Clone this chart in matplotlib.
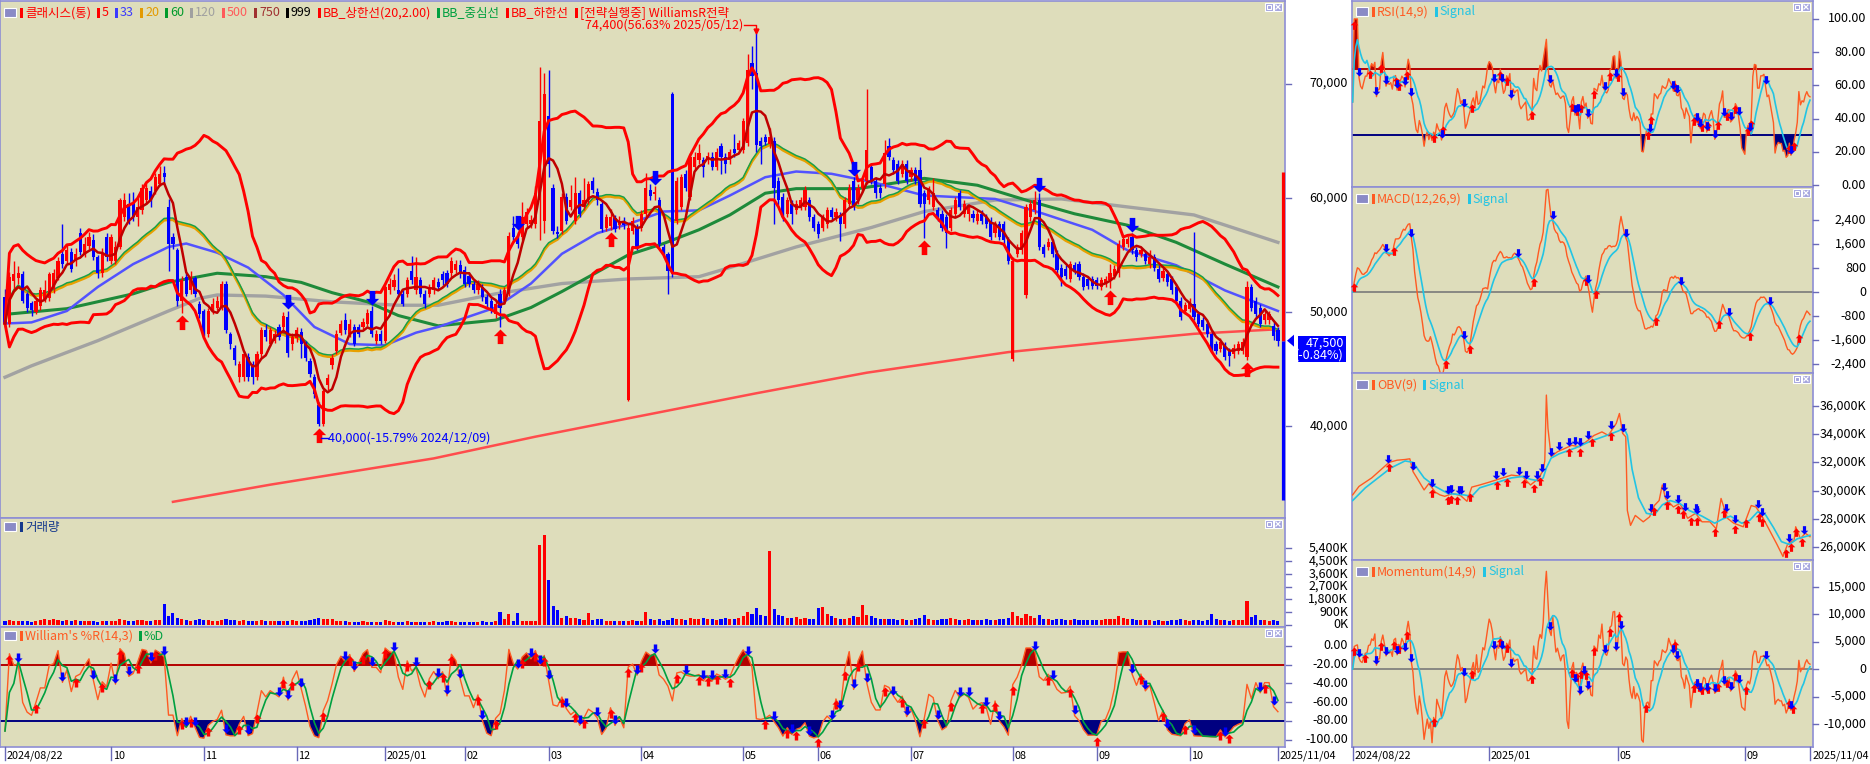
import numpy as np
import pandas as pd
import matplotlib
matplotlib.use('Agg')
import matplotlib.pyplot as plt
from matplotlib.patches import Rectangle, Polygon
from matplotlib.lines import Line2D
from matplotlib.path import Path
from matplotlib.markers import MarkerStyle
from matplotlib.transforms import blended_transform_factory as btf, offset_copy

plt.rcParams['font.family'] = ['Noto Sans CJK KR', 'DejaVu Sans']

# ===================== DATA =====================
stock_name = '클래시스(통)'
hi_date = '2025/05/12'
lo_date = '2024/12/09'
month_tick_idx = [0, 24, 45, 66, 86, 104, 123, 144, 167, 184, 205, 228, 247, 268, 288]
month_tick_lbl = ['2024/08/22', '10', '11', '12', '2025/01', '02', '03', '04', '05',
                  '06', '07', '08', '09', '10', '2025/11/04']
side_tick_idx = [0, 86, 167, 247, 288]
side_tick_lbl = ['2024/08/22', '2025/01', '05', '09', '2025/11/04']

# daily prices in units of 100 KRW
open_100 = [
    513,490,527,530,533,516,508,500,505,511, 512,520,530,551,545,553,545,569,551,558,
    563,548,534,566,545,545,557,583,595,596, 583,589,598,606,606,612,622,592,566,554,
    510,531,519,530,507,501,481,501,504,504, 525,481,469,443,443,461,455,443,463,484,
    472,475,487,487,496,472,477,483,472,457, 443,419,402,436,454,466,482,493,481,487,
    487,487,490,501,475,481,475,519,522,519, 516,516,536,519,528,516,516,519,526,533,
    534,534,537,541,537,532,525,519,522,513, 510,498,516,510,516,574,566,566,577,577,
    577,598,580,672,609,570,571,601,592,580, 604,592,598,615,605,595,574,575,582,576,
    580,423,571,574,574,586,607,603,598,557, 551,691,580,592,621,601,627,633,633,633,
    636,627,645,636,633,643,642,642,648,718, 709,650,653,647,650,615,601,586,595,589,
    592,592,598,583,577,574,577,589,583,585, 577,595,615,598,609,615,627,615,609,612,
    645,633,630,621,630,618,624,624,604,598, 592,589,586,583,574,586,604,586,586,586,
    580,586,583,580,569,577,577,563,459,551, 554,515,583,589,598,557,557,561,551,539,
    538,529,541,542,531,529,529,528,522,525, 528,532,534,557,560,566,554,551,551,542,
    548,538,530,533,529,522,510,501,503,507, 498,493,490,481,472,468,471,466,463,466,
    466,461,522,510,504,493,493,488,484]
high_100 = [
    520,535,545,540,536,518,510,512,522,528, 535,538,548,577,560,556,556,574,566,570,
    568,550,556,569,568,562,600,604,604,605, 600,612,613,610,622,628,628,599,569,556,
    532,534,536,532,510,503,504,512,514,527, 527,483,471,457,466,464,457,466,487,490,
    487,484,490,500,501,482,487,486,475,460, 446,421,433,446,463,484,493,499,494,490,
    490,495,503,505,484,484,524,530,533,539, 519,531,549,548,531,519,525,531,530,536,
    537,548,546,546,540,535,528,528,525,516, 512,510,520,522,570,584,570,596,591,585,
    610,714,709,712,612,575,604,604,611,618, 607,617,615,618,609,598,586,590,585,584,
    583,577,583,577,589,622,612,610,601,560, 553,693,618,621,624,639,640,647,636,640,
    640,644,648,639,643,656,651,670,726,733, 744,653,656,661,653,618,604,601,598,598,
    601,610,601,586,580,586,592,592,591,588, 601,612,618,612,618,695,630,618,612,651,
    652,636,633,633,633,627,627,636,607,610, 617,592,589,586,592,601,607,598,595,589,
    589,589,586,583,580,580,580,566,548,560, 572,595,598,606,604,560,565,564,554,542,
    541,545,544,545,534,532,532,531,531,532, 542,541,563,567,567,569,557,557,554,554,
    551,541,539,536,532,525,513,509,512,570, 501,496,493,484,475,477,474,469,472,475,
    477,527,525,513,507,501,501,491,487]
low_100 = [
    487,487,520,525,508,500,497,498,502,509, 510,517,528,539,542,535,540,550,548,555,
    546,530,531,545,542,542,555,580,577,580, 575,586,595,592,603,610,612,536,555,505,
    499,514,516,513,495,479,478,498,502,502, 482,468,454,439,440,440,437,441,460,475,
    470,473,476,482,461,467,474,460,457,443, 425,400,400,432,450,463,480,481,478,470,
    478,485,488,478,472,472,473,516,519,513, 505,513,525,516,513,504,513,516,519,524,
    522,531,534,530,522,522,517,516,510,504, 499,495,487,507,514,562,556,563,574,574,
    574,563,569,618,568,565,568,577,589,577, 583,589,595,604,594,570,571,572,570,573,
    573,422,568,554,571,583,598,598,557,548, 516,531,577,589,606,598,624,630,618,630,
    624,624,621,622,630,636,639,639,645,695, 640,630,646,644,577,594,580,583,577,586,
    589,589,580,571,565,571,574,580,580,562, 574,592,589,595,606,612,612,600,600,609,
    633,621,612,618,612,615,612,592,565,595, 589,580,571,556,571,583,589,583,580,579,
    577,577,574,563,566,563,560,542,457,548, 551,512,580,586,554,548,554,548,534,523,
    529,526,533,528,519,520,520,520,519,522, 521,529,531,554,557,551,545,548,542,539,
    536,526,527,523,516,507,493,498,500,493, 487,484,478,465,463,465,458,453,460,463,
    463,458,501,495,487,490,490,476,470]
close_100 = [
    490,531,533,534,510,504,502,510,519,519, 533,534,545,542,554,538,551,553,560,566,
    548,534,551,548,566,557,598,598,580,583, 592,609,609,598,618,621,618,560,560,510,
    528,516,531,516,498,481,501,507,510,525, 484,472,458,455,463,443,443,463,484,478,
    484,481,478,497,464,478,484,472,460,446, 428,402,431,442,460,481,490,484,490,472,
    481,491,499,481,481,475,522,525,528,516, 507,528,528,531,516,507,522,528,522,528,
    525,545,542,533,525,525,519,525,513,507, 501,507,504,519,567,566,560,583,588,581,
    604,667,691,630,571,568,601,580,598,604, 586,598,612,607,598,573,583,583,573,580,
    576,574,580,557,586,609,602,605,560,551, 536,534,615,618,609,636,636,639,627,637,
    627,640,636,630,640,639,648,667,712,707, 646,645,649,653,609,598,583,598,586,595,
    598,607,583,574,568,583,589,583,588,577, 598,609,592,609,615,642,615,604,604,639,
    636,624,615,630,615,624,615,595,595,607, 604,583,574,569,589,598,592,595,592,582,
    586,580,577,566,577,566,563,545,545,557, 569,592,595,598,557,551,561,551,537,531,
    532,542,536,531,522,523,523,523,528,529, 534,538,560,564,564,554,548,554,545,548,
    539,529,536,526,519,510,496,506,509,496, 490,487,481,468,466,474,461,462,469,472,
    474,522,504,498,490,498,498,479,475]
volume_k = [
    280,330,280,250,300,260,230,300,320,400, 350,400,330,300,380,300,330,280,250,300,
    260,230,300,260,280,250,420,350,300,280, 330,380,300,250,350,380,1450,600,870,515,
    400,380,300,350,400,320,350,300,280,330, 400,350,380,300,330,250,300,280,330,300,
    250,280,300,260,300,350,280,250,300,330, 450,480,450,430,450,300,280,250,200,230,
    200,250,230,200,180,220,350,250,220,200, 230,250,200,220,180,200,220,250,230,200,
    250,280,220,200,180,230,200,220,250,200, 240,250,915,400,750,300,820,300,280,250,
    300,5600,6300,3140,1340,1030,520,630,520,520, 400,350,820,350,450,400,300,280,300,280,
    300,300,350,300,280,915,400,350,450,300, 350,500,400,450,350,500,400,450,500,400,
    450,380,400,500,450,400,480,600,900,800, 1200,700,600,5200,1100,700,600,500,500,550,
    450,500,400,450,1200,1300,800,600,500,450, 400,500,600,550,1400,700,600,500,450,400,
    450,400,380,400,350,380,420,500,700,400, 380,350,400,450,500,420,380,350,400,380,
    350,380,400,350,380,420,400,500,900,600, 500,800,600,500,700,450,400,380,420,400,
    380,350,400,380,350,380,350,330,380,400, 450,420,600,500,450,400,380,350,380,330,
    300,330,280,300,330,350,400,320,300,380, 330,300,350,770,400,330,350,300,320,350,
    330,1690,560,680,350,330,300,350,300]

# long moving averages (index, value in 100 KRW)
ma33_idx = [0,6,14,21,29,37,41,48,55,63,70,78,86,93,98,111,119,126,134,141,149,157,164,172,179,187,196,208,224,235,246,254,265,276,288]
ma33_val = [490,491,501,522,542,557,560,552,539,515,487,472,471,482,487,504,525,551,569,577,588,589,602,618,623,621,614,602,599,586,572,554,541,519,501]
ma60_idx = [0,14,29,37,48,59,67,74,82,89,98,111,119,126,134,141,149,157,164,172,179,193,208,220,231,242,254,265,276,288]
ma60_val = [498,503,516,526,534,531,526,517,509,497,488,493,504,518,535,550,560,572,585,604,608,608,617,611,598,586,576,561,542,522]
ma120_idx = [0,6,21,37,44,48,59,74,89,98,111,126,141,157,164,179,196,208,224,239,254,269,288]
ma120_val = [443,453,475,501,512,515,514,509,506,506,516,525,529,531,539,557,574,588,598,599,592,585,561]
ma500_idx = [38,60,97,120,141,170,195,227,250,269,288]
ma500_val = [334,349,372,391,407,429,447,465,474,481,485]

# main-chart strategy signals (day index)
buy_idx = [40, 71, 112, 137, 208, 250, 281]
sell_idx = [64, 83, 116, 147, 192, 234, 255]

# OBV (thousand shares)
obv_idx = [0,4,8,12,16,20,23,28,33,36,38,41,45,48,52,55,58,63,68,72,75,80,86,93,100,107,112,117,120,121,
           122,123,125,129,133,138,143,147,152,157,161,166,168,170,172,173,175,178,183,187,190,193,195,197,202,206,211,216,220,225,
           229,232,236,240,246,251,254,258,263,267,271,274,278,279,282,285,288]
obv_val = [29700,30300,30600,30900,31300,31700,32000,32150,32200,32250,31350,30800,30050,30500,29900,29700,29600,29800,29650,29250,
           30250,30400,30600,30850,31100,31000,30400,30850,31450,32100,36750,34400,32400,32750,32950,33200,33100,33450,33900,34150,
           33900,34750,35450,34050,33800,28600,27550,28250,27800,28150,28950,29300,30400,29450,28850,29100,28050,28400,27800,27800,
           27300,29450,28050,27700,27450,28950,28850,28150,27100,26250,25350,26250,26500,27450,26600,27000,26750]
obv_sig_idx = [0,8,16,24,33,38,45,52,60,70,75,80,90,100,107,112,117,120,122,125,130,140,150,160,167,171,173,176,180,185,
               190,195,200,206,212,220,228,233,238,245,250,255,260,265,270,275,280,288]
obv_sig_val = [29300,30200,30900,31600,32100,32000,30900,30300,29800,29700,29600,30200,30550,30900,31000,30800,30700,30900,31600,32300,
               32600,33000,33500,33900,34200,34400,33900,31500,29500,28400,28300,29000,29300,29100,28600,28200,27700,28000,28200,27700,
               27900,28500,28300,27400,26400,26200,26600,26850]
obv_dn = [22,38,50,60,62,67,68,90,95,105,109,116,119,125,130,136,140,143,148,163,170,188,196,198,205,209,216,217,235,241,255,258,275,284]
obv_up = [23,50,60,62,66,74,91,97,108,114,118,136,143,151,163,190,198,205,208,213,217,228,234,241,248,256,258,273,276,279,283]

N = len(close_100)
assert all(len(a) == N for a in (open_100, high_100, low_100, volume_k)), \
    [len(a) for a in (open_100, high_100, low_100, close_100, volume_k)]

O = np.array(open_100) * 100.0
Hh = np.array(high_100) * 100.0
L = np.array(low_100) * 100.0
C = np.array(close_100) * 100.0
V = np.array(volume_k, dtype=float)
x = np.arange(N)

# ===================== INDICATORS =====================
cs = pd.Series(C)
ma5 = cs.rolling(5, min_periods=1).mean()
ma20 = cs.rolling(20, min_periods=1).mean()
sd20 = cs.rolling(20, min_periods=1).std(ddof=0)
bb_up = ma20 + 2 * sd20
bb_lo = ma20 - 2 * sd20

hh14 = pd.Series(Hh).rolling(14, min_periods=1).max()
ll14 = pd.Series(L).rolling(14, min_periods=1).min()
wr = ((hh14 - cs) / (hh14 - ll14) * -100).fillna(-50)
wd = wr.rolling(3, min_periods=1).mean()

dlt = cs.diff().fillna(0)
ag = dlt.clip(lower=0).rolling(14, min_periods=1).mean()
al = (-dlt.clip(upper=0)).rolling(14, min_periods=1).mean()
rsi = (100 * ag / (ag + al).replace(0, np.nan)).fillna(50)
rsi_sig = rsi.rolling(9, min_periods=1).mean()

macd = cs.ewm(span=12, adjust=False).mean() - cs.ewm(span=26, adjust=False).mean()
macd_sig = macd.ewm(span=9, adjust=False).mean()

mom = cs - cs.shift(14)
mom[:14] = cs[:14] - cs[0]
mom_sig = mom.rolling(9, min_periods=1).mean()

# ===================== FIGURE =====================
W, Hpx = 1870, 764
fig = plt.figure(figsize=(W / 100, Hpx / 100), dpi=100)
fig.patch.set_facecolor('white')
BG = '#DEDDBB'
EDGE = '#8E8ED4'
RED, BLUE = '#FF0000', '#0000FF'
LINE_RED = '#FF5A22'
CYAN = '#22C4E4'
NAVY = '#000080'
DRED = '#B40000'


def fx(px):
    return px / W


def fy(py):
    return 1 - py / Hpx


def mk_ax(x0, y0, x1, y1):
    ax = fig.add_axes([x0 / W, 1 - y1 / Hpx, (x1 - x0) / W, (y1 - y0) / Hpx])
    ax.set_facecolor(BG)
    for s in ax.spines.values():
        s.set_color(EDGE)
        s.set_linewidth(1.2)
    ax.set_xticks([])
    ax.set_yticks([])
    return ax


def rect_px(x0, y0, x1, y1, **kw):
    r = Rectangle((fx(x0), fy(y1)), (x1 - x0) / W, (y1 - y0) / Hpx, transform=fig.transFigure, **kw)
    fig.add_artist(r)


def line_px(xs, ys, **kw):
    fig.add_artist(Line2D([fx(a) for a in xs], [fy(b) for b in ys], transform=fig.transFigure, **kw))


renderer = fig.canvas.get_renderer()


def legend_row(x, y, items, fs=9):
    rect_px(x - 16, y - 5, x - 4, y + 4, facecolor='#8A8AC6', edgecolor='white', lw=0.8, zorder=5)
    for s, col in items:
        rect_px(x, y - 5, x + 3, y + 5, facecolor=col, edgecolor='none', zorder=5)
        t = fig.text(fx(x + 5), fy(y), s, color=col, fontsize=fs, va='center', ha='left', zorder=6)
        bb = t.get_window_extent(renderer)
        x = x + 5 + bb.width + 6


def buttons(xr, yt):
    for x0 in (xr - 19, xr - 10):
        rect_px(x0, yt + 2, x0 + 8, yt + 10, facecolor='#A4A4DE', edgecolor='white', lw=0.8, zorder=5)
    rect_px(xr - 17, yt + 4, xr - 13, yt + 8, facecolor='none', edgecolor='white', lw=0.8, zorder=6)
    line_px([xr - 8, xr - 4], [yt + 4, yt + 8], color='white', lw=0.9, zorder=6)
    line_px([xr - 8, xr - 4], [yt + 8, yt + 4], color='white', lw=0.9, zorder=6)


def ylabels(ax, vals, labels, xr, t0, t1, fs=9):
    tr = btf(fig.transFigure, ax.transData)
    for v, s in zip(vals, labels):
        fig.text(fx(xr), v, s, transform=tr, ha='right', va='center', fontsize=fs, color='black')
        fig.add_artist(Line2D([fx(t0), fx(t1)], [v, v], transform=tr, color='#6A6AB8', lw=1))


def xlabels(ax, idxs, labels, ytop, fs=7.8):
    for i, s in zip(idxs, labels):
        px = ax.transData.transform((i, 0))[0]
        line_px([px, px], [ytop, ytop + 13], color='#6A6AB8', lw=1)
        fig.text(fx(px + 1.5), fy(ytop + 9), s, ha='left', va='center', fontsize=fs, color='black')


a = np.array([(0, 0), (-1, -1), (-0.42, -1), (-0.42, -2.2), (0.42, -2.2), (0.42, -1), (1, -1), (0, 0)])
UP = MarkerStyle(Path(a, closed=True))
DN = MarkerStyle(Path(a * np.array([1, -1]), closed=True))


def arrows(ax, xs, ys, kind, size):
    ax.plot(xs, ys, linestyle='none', marker=UP if kind == 'up' else DN, markersize=size,
            color=RED if kind == 'up' else BLUE, markeredgewidth=0, zorder=8, clip_on=False)


def cross(a, b):
    d = np.sign(np.asarray(a) - np.asarray(b))
    u = np.where((d[1:] > 0) & (d[:-1] <= 0))[0] + 1
    dn = np.where((d[1:] < 0) & (d[:-1] >= 0))[0] + 1
    return u, dn


# -------- axes --------
ax_m = mk_ax(0, 1, 1285, 518)
ax_v = mk_ax(0, 518, 1285, 627)
ax_w = mk_ax(0, 627, 1285, 747)
ax_r = mk_ax(1352, 1, 1813, 187)
ax_c = mk_ax(1352, 187, 1813, 373)
ax_o = mk_ax(1352, 373, 1813, 560)
ax_p = mk_ax(1352, 560, 1813, 747)

for ax in (ax_m, ax_v, ax_w):
    ax.set_xlim(-1.13, 289.6)
for ax in (ax_r, ax_c, ax_o, ax_p):
    ax.set_xlim(-0.4, 289.9)

ax_m.set_ylim(31986, 77218)
ax_v.set_ylim(-141, 7523)
ax_w.set_ylim(-108.0, 20.3)
ax_r.set_ylim(-1.2, 110.8)
ax_c.set_ylim(-2700, 3500)
ax_o.set_ylim(25103, 38309)
ax_p.set_ylim(-14188, 19862)

# -------- main price chart --------
up = C >= O
col = np.where(up, RED, BLUE)
ax_m.plot(np.array(ma120_idx), np.array(ma120_val) * 100, color='#A2A2A2', lw=2.4, zorder=2)
ax_m.plot(np.array(ma500_idx), np.array(ma500_val) * 100, color='#FF4C4C', lw=1.8, zorder=2)
ax_m.plot(np.array(ma60_idx), np.array(ma60_val) * 100, color='#1E8A3A', lw=2.2, zorder=2)
ax_m.plot(np.array(ma33_idx), np.array(ma33_val) * 100, color='#5252FF', lw=1.8, zorder=2)
ax_m.plot(x, ma20, color='#E8A000', lw=1.9, zorder=2)
ax_m.plot(x, ma20, color='#18A048', lw=1.1, zorder=2,
          transform=offset_copy(ax_m.transData, fig=fig, x=0, y=1.8, units='dots'))
ax_m.vlines(x, L, Hh, colors=col, lw=1, zorder=3)
body = np.maximum(np.abs(C - O), 90)
ax_m.bar(x, body, bottom=np.minimum(O, C), width=0.72, color=col, zorder=4, linewidth=0)
ax_m.plot(x, bb_up, color=RED, lw=2.1, zorder=5)
ax_m.plot(x, bb_lo, color=RED, lw=2.1, zorder=5)
ax_m.plot(x, ma5, color='#C00000', lw=1.8, zorder=5)
bi = np.array(buy_idx)
si = np.array(sell_idx)
arrows(ax_m, bi, L[bi] - 150, 'up', 21)
arrows(ax_m, si, Hh[si] + 150, 'down', 21)

cur = C[-1]
prev = C[-2]
upper_lim = prev * 1.3
lower_lim = prev * 0.7
ax_m.vlines(289.1, cur, upper_lim, color=RED, lw=2.3, zorder=6, clip_on=False)
ax_m.vlines(289.1, lower_lim, cur, color=BLUE, lw=2.3, zorder=6, clip_on=False)

hi_i = int(np.argmax(Hh))
lo_i = int(np.argmin(L))
hi_v, lo_v = Hh[hi_i], L[lo_i]
ty = hi_v + 720
ax_m.text(hi_i - 3.0, ty, f'{hi_v:,.0f}({(hi_v / cur - 1) * 100:.2f}% {hi_date})', color=RED,
          fontsize=9, ha='right', va='center', zorder=9)
ax_m.plot([hi_i - 2.7, hi_i, hi_i], [ty, ty, hi_v + 300], color=RED, lw=1, zorder=9)
ax_m.plot([hi_i], [hi_v + 230], marker='v', ms=3.5, color=RED, zorder=9)
lty = lo_v - 1050
ax_m.plot([lo_i + 0.6, lo_i + 2.0], [lty, lty], color=BLUE, lw=1, zorder=9)
ax_m.text(lo_i + 2.1, lty, f'{lo_v:,.0f}({(lo_v / cur - 1) * 100:.2f}% {lo_date})', color=BLUE,
          fontsize=9, ha='left', va='center', zorder=9)

ylabels(ax_m, [40000, 50000, 60000, 70000], ['40,000', '50,000', '60,000', '70,000'], 1348, 1286, 1291)
yp = Hpx - ax_m.transData.transform((0, cur))[1]
fig.add_artist(Polygon([(fx(1287), fy(yp)), (fx(1294), fy(yp - 6)), (fx(1294), fy(yp + 6))],
                       closed=True, transform=fig.transFigure, facecolor=BLUE, edgecolor='none'))
rect_px(1298, yp - 5, 1346, yp + 21, facecolor=BLUE, edgecolor='none', zorder=5)
fig.text(fx(1344), fy(yp + 2), f'{cur:,.0f}', color='white', fontsize=9, ha='right', va='center', zorder=6)
fig.text(fx(1344), fy(yp + 14), f'({(cur / prev - 1) * 100:.2f}%)', color='white', fontsize=9,
         ha='right', va='center', zorder=6)

legend_row(20, 13, [(stock_name, RED), ('5', RED), ('33', '#3A3AFF'), ('20', '#E39A00'), ('60', '#009A2A'),
                    ('120', '#A0A0A0'), ('500', '#FF5A5A'), ('750', '#A03030'), ('999', '#000000'),
                    ('BB_상한선(20,2.00)', RED), ('BB_중심선', '#00A040'), ('BB_하한선', RED),
                    ('[전략실행중] WilliamsR전략', RED)])
buttons(1284, 1)

# -------- volume --------
ax_v.bar(x, V, width=0.7, color=col, linewidth=0, zorder=3)
ylabels(ax_v, [0, 900, 1800, 2700, 3600, 4500, 5400],
        ['0K', '900K', '1,800K', '2,700K', '3,600K', '4,500K', '5,400K'], 1348, 1286, 1291)
legend_row(20, 527, [('거래량', '#14388C')])
buttons(1284, 518)

# -------- Williams %R --------
ax_w.axhline(-20, color=DRED, lw=1.4, zorder=2)
ax_w.axhline(-80, color=NAVY, lw=1.4, zorder=2)
ax_w.fill_between(x, wr, -20, where=wr >= -20, interpolate=True, color=DRED, lw=0, zorder=3)
ax_w.fill_between(x, wr, -80, where=wr <= -80, interpolate=True, color=NAVY, lw=0, zorder=3)
ax_w.plot(x, wr, color=LINE_RED, lw=1.0, zorder=4)
ax_w.plot(x, wd, color='#00A040', lw=1.2, zorder=4)
u, dn = cross(wr, wd)
arrows(ax_w, u, wr[u] - 1.5, 'up', 13)
arrows(ax_w, dn, wr[dn] + 1.5, 'down', 13)
ylabels(ax_w, [0, -20, -40, -60, -80, -100], ['0.00', '-20.00', '-40.00', '-60.00', '-80.00', '-100.00'],
        1348, 1286, 1291)
legend_row(20, 636, [("William's %R(14,3)", LINE_RED), ('%D', '#00A040')])
buttons(1284, 627)
xlabels(ax_w, month_tick_idx, month_tick_lbl, 747)

# -------- RSI --------
ax_r.axhline(70, color=DRED, lw=1.4, zorder=2)
ax_r.axhline(30, color=NAVY, lw=1.4, zorder=2)
ax_r.fill_between(x, rsi, 70, where=rsi >= 70, interpolate=True, color=DRED, lw=0, zorder=3)
ax_r.fill_between(x, rsi, 30, where=rsi <= 30, interpolate=True, color=NAVY, lw=0, zorder=3)
ax_r.plot(x, rsi, color=LINE_RED, lw=1.0, zorder=4)
ax_r.plot(x, rsi_sig, color=CYAN, lw=1.2, zorder=4)
u, dn = cross(rsi, rsi_sig)
arrows(ax_r, u, rsi[u] - 1, 'up', 12)
arrows(ax_r, dn, rsi[dn] + 1, 'down', 12)
ylabels(ax_r, [0, 20, 40, 60, 80, 100], ['0.00', '20.00', '40.00', '60.00', '80.00', '100.00'], 1866, 1813, 1818)
legend_row(1372, 12, [('RSI(14,9)', LINE_RED), ('Signal', CYAN)])
buttons(1812, 1)

# -------- MACD --------
ax_c.axhline(0, color='#7A7A7A', lw=1.2, zorder=2)
ax_c.plot(x, macd, color=LINE_RED, lw=1.0, zorder=4)
ax_c.plot(x, macd_sig, color=CYAN, lw=1.2, zorder=4)
u, dn = cross(macd, macd_sig)
arrows(ax_c, u, macd[u] - 40, 'up', 12)
arrows(ax_c, dn, macd[dn] + 40, 'down', 12)
ylabels(ax_c, [-2400, -1600, -800, 0, 800, 1600, 2400],
        ['-2,400', '-1,600', '-800', '0', '800', '1,600', '2,400'], 1866, 1813, 1818)
legend_row(1372, 199, [('MACD(12,26,9)', LINE_RED), ('Signal', CYAN)])
buttons(1812, 187)

# -------- OBV --------
ax_o.plot(obv_idx, obv_val, color=LINE_RED, lw=1.0, zorder=4)
ax_o.plot(obv_sig_idx, obv_sig_val, color=CYAN, lw=1.2, zorder=4)
od = np.array(obv_dn)
ou = np.array(obv_up)
arrows(ax_o, od, np.interp(od, obv_idx, obv_val) + 80, 'down', 12)
arrows(ax_o, ou, np.interp(ou, obv_idx, obv_val) - 80, 'up', 12)
ylabels(ax_o, [26000, 28000, 30000, 32000, 34000, 36000],
        ['26,000K', '28,000K', '30,000K', '32,000K', '34,000K', '36,000K'], 1866, 1813, 1818)
legend_row(1372, 385, [('OBV(9)', LINE_RED), ('Signal', CYAN)])
buttons(1812, 373)

# -------- Momentum --------
ax_p.axhline(0, color='#7A7A7A', lw=1.2, zorder=2)
ax_p.plot(x, mom, color=LINE_RED, lw=1.0, zorder=4)
ax_p.plot(x, mom_sig, color=CYAN, lw=1.2, zorder=4)
u, dn = cross(mom, mom_sig)
arrows(ax_p, u, mom[u] - 150, 'up', 12)
arrows(ax_p, dn, mom[dn] + 150, 'down', 12)
ylabels(ax_p, [-10000, -5000, 0, 5000, 10000, 15000],
        ['-10,000', '-5,000', '0', '5,000', '10,000', '15,000'], 1866, 1813, 1818)
legend_row(1372, 572, [('Momentum(14,9)', LINE_RED), ('Signal', CYAN)])
buttons(1812, 560)
xlabels(ax_p, side_tick_idx[:-1], side_tick_lbl[:-1], 747)
# last date label right-aligned to the figure edge so it stays fully visible
px_last = ax_p.transData.transform((side_tick_idx[-1], 0))[0]
line_px([px_last, px_last], [747, 760], color='#6A6AB8', lw=1)
fig.text(fx(1869), fy(756), side_tick_lbl[-1], ha='right', va='center', fontsize=7.8, color='black')

fig.savefig('out.png', dpi=100, facecolor='white')
